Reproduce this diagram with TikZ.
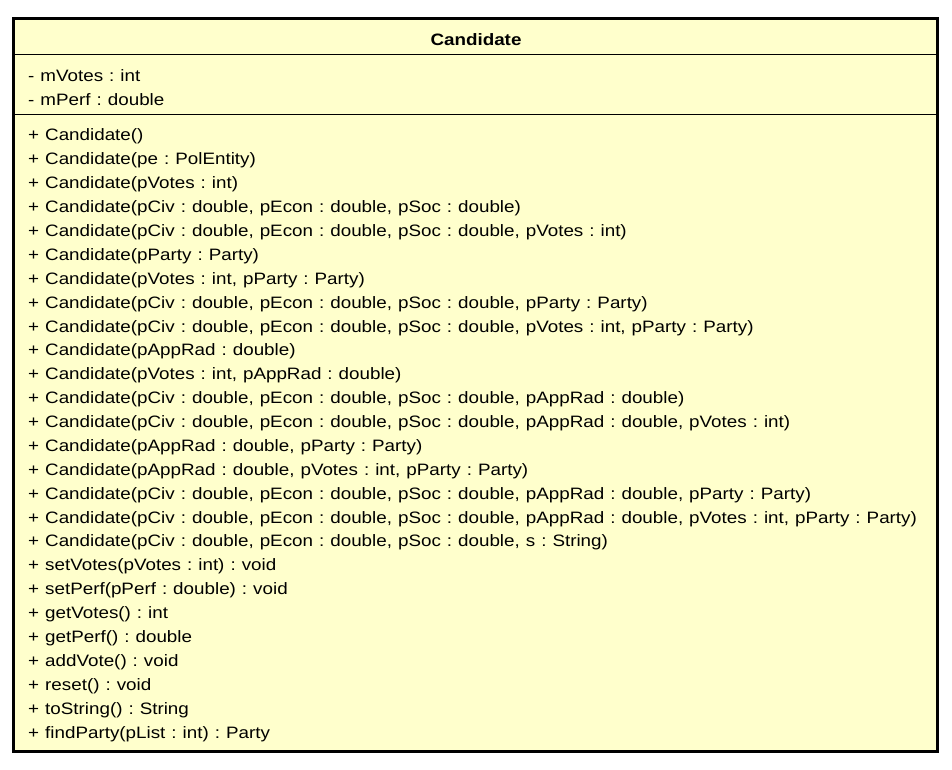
\documentclass[tikz,border=0pt]{standalone}
\usepackage{fontspec}
\setmainfont{Liberation Sans}[FakeStretch=1.14, WordSpace=1.15]
\definecolor{umlfill}{HTML}{FFFFCC}
\begin{document}
\frenchspacing
\begin{tikzpicture}[x=1pt,y=-1pt,
  member/.style={anchor=base west, inner sep=0pt, font=\fontsize{16.5}{16.5}\selectfont},
  titletext/.style={anchor=base, inner sep=0pt, font=\fontsize{16.5}{16.5}\selectfont\bfseries},
  sepline/.style={line width=1pt, black},
  classbox/.style={line width=3pt, draw=black, fill=umlfill}]
\useasboundingbox (0,0) rectangle (952,770);
\draw[classbox] (13.5,18.5) rectangle (937.5,751.5);
\coordinate (s1l) at (12,55); \coordinate (s1r) at (937,55);
\coordinate (s2l) at (12,115); \coordinate (s2r) at (937,115);
\draw[sepline] (s1l) -- (s1r);
\draw[sepline] (s2l) -- (s2r);
\node[titletext] (title) at (476,46) {Candidate};
\node[member] (a1) at (28,82) {- mVotes : int};
\node[member] (a2) at (28,106) {- mPerf : double};
\foreach \t [count=\i from 0] in {
 {+ Candidate()},
 {+ Candidate(pe : PolEntity)},
 {+ Candidate(pVotes : int)},
 {+ Candidate(pCiv : double, pEcon : double, pSoc : double)},
 {+ Candidate(pCiv : double, pEcon : double, pSoc : double, pVotes : int)},
 {+ Candidate(pParty : Party)},
 {+ Candidate(pVotes : int, pParty : Party)},
 {+ Candidate(pCiv : double, pEcon : double, pSoc : double, pParty : Party)},
 {+ Candidate(pCiv : double, pEcon : double, pSoc : double, pVotes : int, pParty : Party)},
 {+ Candidate(pAppRad : double)},
 {+ Candidate(pVotes : int, pAppRad : double)},
 {+ Candidate(pCiv : double, pEcon : double, pSoc : double, pAppRad : double)},
 {+ Candidate(pCiv : double, pEcon : double, pSoc : double, pAppRad : double, pVotes : int)},
 {+ Candidate(pAppRad : double, pParty : Party)},
 {+ Candidate(pAppRad : double, pVotes : int, pParty : Party)},
 {+ Candidate(pCiv : double, pEcon : double, pSoc : double, pAppRad : double, pParty : Party)},
 {+ Candidate(pCiv : double, pEcon : double, pSoc : double, pAppRad : double, pVotes : int, pParty : Party)},
 {+ Candidate(pCiv : double, pEcon : double, pSoc : double, s : String)},
 {+ setVotes(pVotes : int) : void},
 {+ setPerf(pPerf : double) : void},
 {+ getVotes() : int},
 {+ getPerf() : double},
 {+ addVote() : void},
 {+ reset() : void},
 {+ toString() : String},
 {+ findParty(pList : int) : Party}}
 {\node[member] (m\i) at (28,141+23.88*\i) {\t};}
\end{tikzpicture}
\end{document}
